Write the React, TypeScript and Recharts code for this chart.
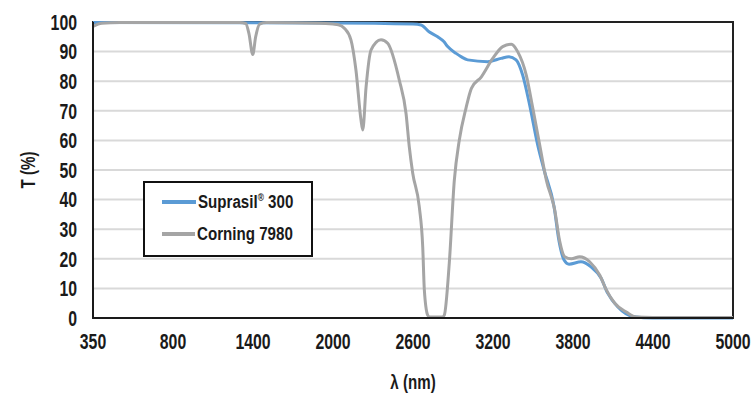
import { LineChart, Line, XAxis, YAxis, CartesianGrid, ReferenceArea, Legend } from "recharts"

const FONT = '"Liberation Sans", Arial, sans-serif'
const SQUEEZE = 0.72 // the source font is a condensed face

const xTicks = [350, 800, 1400, 2000, 2600, 3200, 3800, 4400, 5000]
const yTicks = [0, 10, 20, 30, 40, 50, 60, 70, 80, 90, 100]

const suprasilWl = [350, 2000, 2600, 2660, 2720, 2785, 2833, 2860, 2923, 2960, 3010, 3160, 3260, 3320, 3373, 3423, 3470, 3535, 3583, 3658, 3695, 3733, 3770, 3860, 3935, 4010, 4060, 4135, 4258, 4400, 5000]
const suprasilT = [99.8, 99.7, 99.3, 99, 96.7, 95, 93.3, 91.7, 89.4, 88.3, 87.2, 86.6, 87.7, 88.3, 87.2, 82, 73, 58.5, 50, 37.6, 26, 19.6, 18.2, 19, 17.3, 13.5, 8.4, 3.8, 0.4, 0, 0]

const corningWl = [350, 400, 500, 800, 1300, 1345, 1370, 1398, 1420, 1450, 1500, 1900, 2000, 2040, 2085, 2135, 2172, 2210, 2223, 2248, 2285, 2360, 2410, 2497, 2548, 2572, 2598, 2647, 2673, 2685, 2710, 2725, 2820, 2835, 2872, 2910, 2947, 2998, 3038, 3113, 3198, 3273, 3338, 3385, 3450, 3498, 3550, 3600, 3663, 3700, 3738, 3788, 3850, 3925, 4000, 4050, 4113, 4200, 4275, 4400, 5000]
const corningT = [98.5, 99.6, 99.8, 99.8, 99.8, 99.5, 96, 89, 95, 99.3, 99.8, 99.6, 99.3, 99.1, 97.9, 93.9, 83.8, 66.9, 63.5, 78, 90.5, 94, 92.8, 80.4, 69, 57.9, 48.9, 37.6, 24, 9.5, 1, 0.3, 0.3, 1, 18.5, 46.6, 60, 71, 77.6, 81.5, 87.7, 91.7, 92.5, 90, 82, 71, 58.5, 46.6, 36.5, 26, 20.7, 20, 20.7, 19, 14.5, 9.5, 5, 2, 0.3, 0.2, 0.2]

// the 350–800 interval is drawn as wide as the 600 nm ones
const toAxis = (wl: number) => (wl < 800 ? 200 + ((wl - 350) * 600) / 450 : wl)

const suprasil = suprasilWl.map((wl, i) => ({ x: toAxis(wl), t: suprasilT[i] }))
const corning = corningWl.map((wl, i) => ({ x: toAxis(wl), t: corningT[i] }))
const axisTicks = xTicks.map(toAxis)

const BLUE = "#5b9bd5"
const GRAY = "#a5a5a5"
const INK = "#1a1a1a"

function NarrowText({ x, y, anchor, dy, size, children, rotate }: any) {
    return (
        <g transform={`translate(${x},${y})${rotate ? ` rotate(${rotate})` : ""}`}>
            <text
                transform={`scale(${SQUEEZE},1)`}
                textAnchor={anchor}
                dy={dy}
                fontFamily={FONT}
                fontSize={size}
                fontWeight={700}
                fill={INK}
            >
                {children}
            </text>
        </g>
    )
}

const XTick = ({ x, y, payload }: any) => (
    <NarrowText x={x} y={y} anchor="middle" dy="0.71em" size={22}>
        {xTicks[axisTicks.indexOf(payload.value)] ?? payload.value}
    </NarrowText>
)

const YTick = ({ x, y, payload }: any) => (
    <NarrowText x={x} y={y} anchor="end" dy="0.355em" size={22}>
        {payload.value}
    </NarrowText>
)

function LegendBox() {
    const row = (color: string, label: React.ReactNode) => (
        <div style={{ display: "flex", alignItems: "center", height: 32, whiteSpace: "nowrap" }}>
            <div style={{ width: 47, height: 4, background: color, marginLeft: 17, marginRight: 2 }} />
            <span
                style={{
                    display: "inline-block",
                    fontFamily: FONT,
                    fontSize: 18,
                    fontWeight: 700,
                    color: INK,
                    transform: "scaleX(0.84)",
                    transformOrigin: "left center",
                }}
            >
                {label}
            </span>
        </div>
    )
    return (
        <div
            style={{
                boxSizing: "border-box",
                width: 170,
                height: 76,
                border: "2px solid #111",
                background: "#fff",
                paddingTop: 3,
            }}
        >
            {row(BLUE, <>Suprasil<sup style={{ fontSize: 10 }}>®</sup> 300</>)}
            {row(GRAY, "Corning 7980")}
        </div>
    )
}

export default function App() {
    return (
        <div style={{ position: "absolute", left: 0, top: 0 }}>
            <LineChart width={755} height={405} margin={{ top: 22, right: 22, bottom: 0, left: 0 }}>
                <CartesianGrid vertical={false} stroke="#d9d9d9" strokeWidth={2} />
                <XAxis
                    type="number"
                    dataKey="x"
                    domain={[200, 5000]}
                    ticks={axisTicks}
                    interval={0}
                    height={87}
                    tickLine={false}
                    tickSize={0}
                    tickMargin={15}
                    axisLine={{ stroke: INK, strokeWidth: 2 }}
                    tick={<XTick />}
                    allowDataOverflow
                    label={{
                        content: ({ viewBox }: any) => (
                            <NarrowText x={viewBox.x + viewBox.width / 2} y={viewBox.y + 64} anchor="middle" dy="0.35em" size={21}>
                                λ (nm)
                            </NarrowText>
                        ),
                    }}
                />
                <YAxis
                    type="number"
                    domain={[0, 100]}
                    ticks={yTicks}
                    interval={0}
                    width={93}
                    tickLine={false}
                    tickSize={0}
                    tickMargin={16}
                    axisLine={{ stroke: INK, strokeWidth: 2 }}
                    tick={<YTick />}
                    label={{
                        content: ({ viewBox }: any) => (
                            <NarrowText x={viewBox.x + 28} y={viewBox.y + viewBox.height / 2} anchor="middle" dy="0.35em" size={21} rotate={-90}>
                                T (%)
                            </NarrowText>
                        ),
                    }}
                />
                <ReferenceArea x1={200} x2={5000} y1={0} y2={100} fill="none" stroke="#222" strokeWidth={2} />
                <Line data={suprasil} dataKey="t" type="monotone" stroke={BLUE} strokeWidth={3} dot={false} isAnimationActive={false} name="Suprasil® 300" />
                <Line data={corning} dataKey="t" type="monotone" stroke={GRAY} strokeWidth={3} dot={false} isAnimationActive={false} name="Corning 7980" />
                <Legend
                    layout="vertical"
                    align="center"
                    verticalAlign="middle"
                    wrapperStyle={{ left: 143, top: 181, width: 170, height: 76 }}
                    content={() => <LegendBox />}
                />
            </LineChart>
        </div>
    )
}
